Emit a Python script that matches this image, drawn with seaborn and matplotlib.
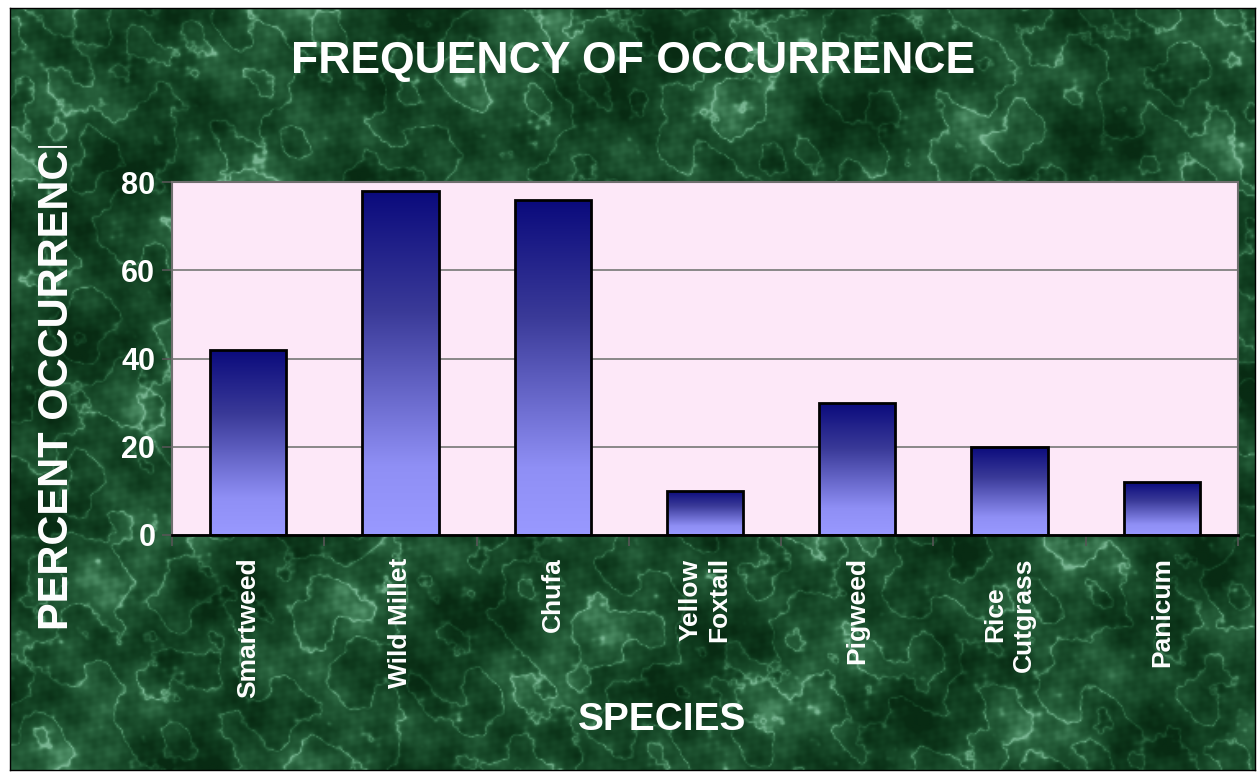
import numpy as np
import pandas as pd
import seaborn as sns
import matplotlib.pyplot as plt
from matplotlib.colors import LinearSegmentedColormap
from matplotlib.transforms import Bbox

# Data
species = ['Smartweed', 'Wild Millet', 'Chufa', 'Yellow\nFoxtail',
           'Pigweed', 'Rice\nCutgrass', 'Panicum']
percent = [42, 78, 76, 10, 30, 20, 12]
y_ticks = [0, 20, 40, 60, 80]

df = pd.DataFrame({'species': species, 'percent': percent})

sns.set_theme(style='white')
plt.rcParams['font.family'] = ['Liberation Sans', 'DejaVu Sans']

W, H = 1260, 774
fig = plt.figure(figsize=(W / 100, H / 100), dpi=100, facecolor='white')

# green marble backdrop (deterministic pattern built from fixed waves)
bg = fig.add_axes([10 / W, 4 / H, 1245 / W, 762 / H], zorder=0)
gx, gy = np.meshgrid(np.linspace(0, 62, 760), np.linspace(0, 38, 470))
angles = [0.3, 1.1, 2.0, 2.7, 0.7, 1.6, 2.4, 0.1, 1.35]
freqs = [0.55, 0.9, 1.45, 2.3, 3.7, 5.9, 9.4, 13.1, 17.7]
amps = [1.0, 0.9, 0.7, 0.55, 0.4, 0.3, 0.22, 0.16, 0.12]
phases = [0.4, 2.1, 4.0, 1.3, 5.2, 3.3, 0.9, 2.8, 4.6]
blob = sum(a * np.sin(f * (np.cos(t) * gx + np.sin(t) * gy) + p)
           for a, f, t, p in zip(amps, freqs, angles, phases))
warp = sum(a * np.sin(f * 0.8 * (np.sin(t) * gx - np.cos(t) * gy) + p)
           for a, f, t, p in zip(amps[:5], freqs[:5], angles[::-1][:5], phases[::-1][:5]))
veins = (1 - np.abs(np.sin(1.6 * warp + 0.6 * blob))) ** 5
tex = 0.6 * blob / 2.5 + 0.8 * veins
marble = LinearSegmentedColormap.from_list(
    'marble', ['#082b13', '#0f3b1e', '#1a4d2c', '#2a643f', '#4c8c64', '#79b592'])
bg.imshow(tex, cmap=marble, aspect='auto', extent=[0, 1, 0, 1],
          interpolation='bilinear', vmin=-0.6, vmax=1.2)
bg.set_xticks([])
bg.set_yticks([])
for s in bg.spines.values():
    s.set_color('black')
    s.set_linewidth(1)

# plot area
ax = fig.add_axes([172 / W, 1 - 535 / H, (1238 - 172) / W, (535 - 182) / H], zorder=1)
ax.set_facecolor('#fde8f8')

sns.barplot(data=df, x='species', y='percent', ax=ax, width=0.5,
            color='#9999ff', edgecolor='black', linewidth=2, zorder=3)

# vertical gradient inside every bar
grad = np.linspace(0, 1, 256).reshape(-1, 1)
bar_cmap = LinearSegmentedColormap.from_list(
    'bars', [(0, '#0a0a7c'), (0.35, '#3a3a98'), (0.8, '#8f8ff5'), (1, '#9999ff')])
for p in ax.patches:
    x0, w, h = p.get_x(), p.get_width(), p.get_height()
    im = ax.imshow(grad, cmap=bar_cmap, extent=[x0, x0 + w, 0, h],
                   aspect='auto', zorder=2, interpolation='bilinear')
    im.set_clip_path(p)
    p.set_facecolor('none')

ax.set_xlim(-0.5, len(species) - 0.5)
ax.set_ylim(0, 80)
ax.set_aspect('auto')

ax.yaxis.grid(True, color='#808080', linewidth=1.3)
ax.set_axisbelow(True)
for name, s in ax.spines.items():
    s.set_color('#6e6e6e')
    s.set_linewidth(1.5)
ax.spines['bottom'].set_color('black')
ax.spines['bottom'].set_linewidth(2)

ax.set_yticks(y_ticks)
ax.set_yticklabels([str(v) for v in y_ticks], color='white', fontsize=22, fontweight='bold')
ax.tick_params(axis='y', left=True, length=7, width=1.2, color='#555555', pad=5, direction='out')

ax.set_xticks(range(len(species)))
ax.set_xticklabels(species, rotation=90, color='white', fontsize=19,
                   fontweight='bold', multialignment='center', linespacing=1.25)
ax.tick_params(axis='x', which='major', bottom=False, length=0, pad=16)
ax.set_xticks(np.arange(-0.5, len(species), 1), minor=True)
ax.tick_params(axis='x', which='minor', bottom=True, length=8, width=1.2,
               color='#555555', direction='out')

ax.set_xlabel('')
ax.set_ylabel('')

fig.text(633 / W, 1 - 62 / H, 'FREQUENCY OF OCCURRENCE', color='white',
         fontsize=32, fontweight='bold', ha='center', va='center')
fig.text(662 / W, 1 - 720 / H, 'SPECIES', color='white',
         fontsize=28, fontweight='bold', ha='center', va='center')
ylab = fig.text(57 / W, 1 - 630 / H, 'PERCENT OCCURRENCE', color='white',
                fontsize=30, fontweight='bold', rotation=90, ha='center', va='bottom')
ylab.set_clip_box(Bbox.from_extents(0, 0, W, H - 146))
ylab.set_clip_on(True)

fig.savefig('out.png', dpi=100, facecolor='white')
